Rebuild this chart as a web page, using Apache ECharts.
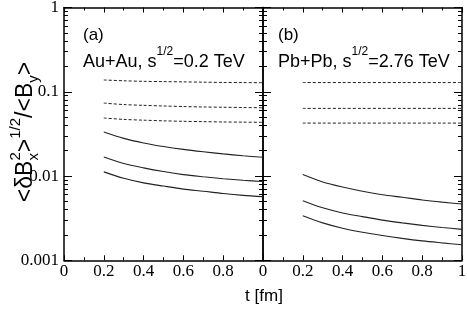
<!DOCTYPE html>
<html><head><meta charset="utf-8">
<script src="https://cdn.jsdelivr.net/npm/echarts@6/dist/echarts.min.js"></script>
<style>html,body{margin:0;padding:0;background:#fff}#c{width:467px;height:311px}</style>
</head><body><div id="c"></div>
<script>
// ---- data ----
const tValues = [0.2, 0.3, 0.4, 0.5, 0.6, 0.7, 0.8, 0.9, 1.0];
// (a) Au+Au, sqrt(s)=0.2 TeV
const auDash1  = [0.138, 0.135, 0.133, 0.132, 0.131, 0.130, 0.129, 0.1285, 0.128];
const auDash2  = [0.0734, 0.0705, 0.0690, 0.0678, 0.0668, 0.0660, 0.0655, 0.0650, 0.0646];
const auDash3  = [0.0488, 0.0470, 0.0460, 0.0452, 0.0446, 0.0442, 0.0438, 0.0436, 0.0434];
const auSolid1 = [0.0333, 0.0280, 0.0247, 0.0224, 0.0207, 0.0194, 0.0183, 0.0174, 0.0167];
const auSolid2 = [0.0168, 0.0141, 0.0125, 0.0113, 0.0104, 0.0098, 0.0093, 0.0089, 0.0086];
const auSolid3 = [0.0112, 0.0094, 0.0083, 0.0076, 0.0070, 0.0066, 0.0062, 0.0059, 0.0057];
// (b) Pb+Pb, sqrt(s)=2.76 TeV
const pbDash1  = [0.1286, 0.1286, 0.1286, 0.1286, 0.1286, 0.1286, 0.1286, 0.1286, 0.1286];
const pbDash2  = [0.0635, 0.0635, 0.0635, 0.0635, 0.0635, 0.0635, 0.0635, 0.0635, 0.0635];
const pbDash3  = [0.0425, 0.0425, 0.0425, 0.0425, 0.0425, 0.0425, 0.0425, 0.0425, 0.0425];
const pbSolid1 = [0.0104, 0.0085, 0.0074, 0.0066, 0.0060, 0.0056, 0.0052, 0.0049, 0.00466];
const pbSolid2 = [0.0051, 0.0042, 0.00365, 0.0033, 0.0030, 0.00278, 0.0026, 0.00245, 0.00233];
const pbSolid3 = [0.00338, 0.00278, 0.00240, 0.00215, 0.00197, 0.00182, 0.00170, 0.00161, 0.00153];

const yMajorTicks = [0.001, 0.01, 0.1, 1];
const yTickLabels = ['0.001', '0.01', '0.1', '1'];
const yMinorTicks = [0.002,0.003,0.004,0.005,0.006,0.007,0.008,0.009,
                     0.02,0.03,0.04,0.05,0.06,0.07,0.08,0.09,
                     0.2,0.3,0.4,0.5,0.6,0.7,0.8,0.9];
const panelLabels = ['(a)', '(b)'];
const systemLabels = [['Au+Au, s', '1/2', '=0.2 TeV'], ['Pb+Pb, s', '1/2', '=2.76 TeV']];
const xTitle = 't [fm]';

// ---- chart ----
const chart = echarts.init(document.getElementById('c'), null, {renderer: 'canvas'});
const SERIF = '"Liberation Serif", "Times New Roman", serif';
const SANS = '"Liberation Sans", Arial, Helvetica, sans-serif';
const AX = {lineStyle: {color: '#000', width: 1.5}};

function xAx(grid, pos, labels, hideMax) {
  return {
    type: 'value', gridIndex: grid, position: pos, min: 0, max: 1, interval: 0.2,
    axisLine: {show: true, onZero: false, lineStyle: AX.lineStyle},
    axisTick: {show: true, inside: true, length: 5, lineStyle: {color: '#000', width: 1}},
    minorTick: {show: true, splitNumber: 2, length: 3, lineStyle: {color: '#000', width: 1}},
    splitLine: {show: false}, minorSplitLine: {show: false},
    axisLabel: {show: labels, margin: 3, fontFamily: SERIF, fontSize: 17, color: '#000',
                showMaxLabel: !hideMax, showMinLabel: true, hideOverlap: false}
  };
}
function yAx(grid, pos, major, labels) {
  return {
    type: 'log', logBase: 10, gridIndex: grid, position: pos, min: 0.001, max: 1,
    axisLine: {show: major, onZero: false, lineStyle: AX.lineStyle},
    axisTick: {show: true, inside: true, length: major ? 8 : 4,
               customValues: major ? yMajorTicks : yMinorTicks,
               lineStyle: {color: '#000', width: 1}},
    splitLine: {show: false},
    axisLabel: {show: labels, margin: 5, fontFamily: SERIF, fontSize: 17, color: '#000',
                customValues: yMajorTicks, hideOverlap: false,
                formatter: v => yTickLabels[Math.round(Math.log10(v)) + 3]}
  };
}

function pts(arr) { return tValues.map((t, i) => [t, arr[i]]); }
function ser(arr, grid, dashed) {
  return {
    type: 'line', xAxisIndex: grid * 2, yAxisIndex: grid * 4, data: pts(arr),
    showSymbol: false, symbol: 'none', smooth: 0.3, silent: true,
    lineStyle: {color: '#222', width: dashed ? 1 : 1.1, type: dashed ? [3, 2] : 'solid'}
  };
}

// y-axis title built from pieces (sub/superscripts)
const meas = document.createElement('canvas').getContext('2d');
function w(text, size) { meas.font = size + 'px ' + SANS; return meas.measureText(text).width; }
const F = 23, S = 15, UP = -0.45 * F, DN = 0.32 * F;
const pieces = [
  [{t: '<δB', s: F, dy: 0}],
  [{t: '2', s: S, dy: UP}, {t: 'x', s: S, dy: DN}],
  [{t: '>', s: F, dy: 0}],
  [{t: '1/2', s: S, dy: UP}],
  [{t: '/<B', s: F, dy: 0}],
  [{t: 'y', s: S, dy: DN}],
  [{t: '>', s: F, dy: 0}]
];
let total = 0; const widths = pieces.map(p => Math.max(...p.map(q => w(q.t, q.s))));
widths.forEach(v => total += v);
let cx = -total / 2; const titleKids = [];
pieces.forEach((p, i) => {
  p.forEach(q => titleKids.push({type: 'text', x: cx, y: q.dy,
    style: {text: q.t, font: q.s + 'px ' + SANS, fill: '#000', verticalAlign: 'middle', align: 'left'}}));
  cx += widths[i];
});

function annot(i, x) {
  const lab = systemLabels[i];
  return [
    {type: 'text', x: x, y: 27, style: {text: panelLabels[i], font: '17px ' + SANS, fill: '#000', verticalAlign: 'top'}},
    {type: 'text', x: x, y: 46, style: {
      text: '{n|' + lab[0] + '}{s|' + lab[1] + '}{n|' + lab[2] + '}', fill: '#000', verticalAlign: 'top',
      rich: {n: {fontSize: 18, fontFamily: SANS, lineHeight: 25, verticalAlign: 'bottom', fill: '#000'},
             s: {fontSize: 12, fontFamily: SANS, lineHeight: 13, verticalAlign: 'top', fill: '#000'}}}}
  ];
}

const option = {
  animation: false,
  backgroundColor: '#fff',
  grid: [
    {left: 64, top: 7.5, width: 199, bottom: 50.7, outerBoundsMode: 'none', containLabel: false},
    {left: 263, top: 7.5, width: 199, bottom: 50.7, outerBoundsMode: 'none', containLabel: false}
  ],
  xAxis: [xAx(0, 'bottom', true, true), xAx(0, 'top', false, false),
          xAx(1, 'bottom', true, false), xAx(1, 'top', false, false)],
  yAxis: [yAx(0, 'left', true, true), yAx(0, 'left', false, false),
          yAx(0, 'right', true, false), yAx(0, 'right', false, false),
          yAx(1, 'left', true, false), yAx(1, 'left', false, false),
          yAx(1, 'right', true, false), yAx(1, 'right', false, false)],
  series: [
    ser(auDash1, 0, true), ser(auDash2, 0, true), ser(auDash3, 0, true),
    ser(auSolid1, 0, false), ser(auSolid2, 0, false), ser(auSolid3, 0, false),
    ser(pbDash1, 1, true), ser(pbDash2, 1, true), ser(pbDash3, 1, true),
    ser(pbSolid1, 1, false), ser(pbSolid2, 1, false), ser(pbSolid3, 1, false)
  ],
  graphic: [
    ...annot(0, 83), ...annot(1, 278),
    {type: 'group', x: 26, y: 132, rotation: Math.PI / 2, children: titleKids},
    {type: 'text', x: 264, y: 296, style: {text: xTitle, font: '17px ' + SANS, fill: '#000', align: 'center', verticalAlign: 'middle'}}
  ]
};
chart.setOption(option);
</script></body></html>
